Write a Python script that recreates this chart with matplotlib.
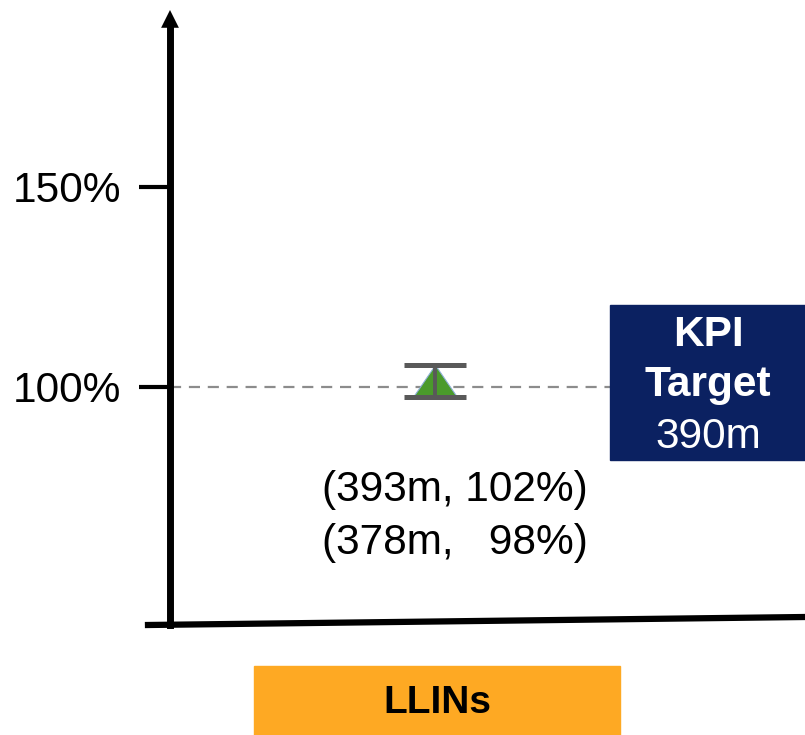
#KPI chart: LLINs distribution estimate against target

import matplotlib.pyplot as plt
from matplotlib.patches import Rectangle
from matplotlib.lines import Line2D

plt.rcParams['font.family'] = ['Liberation Sans', 'DejaVu Sans']

#Data
categories = ['LLINs']
point_pct = [101.5]
upper_pct = [105.5]
lower_pct = [97.5]
upper_label = ['(393m, 102%)']
lower_label = ['(378m,   98%)']
target_pct = 100
target_label = '390m'
yticks = [100, 150]
ytick_labels = ['100%', '150%']

W, H = 805, 735
fig = plt.figure(figsize=(W/100, H/100), dpi=100)
ax = fig.add_axes([170/W, 1-625/H, 635/W, 615/H])
ax.set_xlim(-0.417, 0.583)
ax.set_ylim(40.5, 194.25)

for s in ['top', 'right', 'bottom']:
    ax.spines[s].set_visible(False)
ax.spines['left'].set_linewidth(5)
ax.spines['left'].set_bounds(40.5, 190.0)
ax.set_xticks([])
ax.set_yticks(yticks)
ax.set_yticklabels(ytick_labels, fontsize=30.5)
ax.tick_params(axis='y', length=22, width=3, pad=13)

#arrow head on y axis
ax.annotate('', xy=(0, 1.0), xytext=(0, 190.0), xycoords='axes fraction',
            textcoords=('axes fraction', 'data'),
            arrowprops=dict(arrowstyle='-|>', color='black', lw=0, mutation_scale=32,
                            shrinkA=0, shrinkB=0))

#slightly tilted x axis
fig.add_artist(Line2D([148/W, 1.0], [1-625/H, 1-617/H], color='black', lw=4.5))

#target line
ax.axhline(target_pct, xmin=0, xmax=(610-170)/635, color='#8c8c8c', lw=1.6, dashes=(5, 3.5))

#triangle point + range
tri = [(-1, -0.73), (1, -0.73), (0, 0.73), (-1, -0.73)]
for i, c in enumerate(categories):
    ax.plot(i, point_pct[i], marker=tri, markersize=32, color='#4a9a2b',
            markeredgecolor='#8fb0d8', markeredgewidth=0.8, zorder=3)
    ax.errorbar(i, point_pct[i], yerr=[[point_pct[i]-lower_pct[i]], [upper_pct[i]-point_pct[i]]],
                fmt='none', ecolor='#595959', elinewidth=2.8, capsize=22, capthick=3.6, zorder=4)
    ax.annotate(upper_label[i], xy=(i, lower_pct[i]), xytext=(14.5, -67), textcoords='offset points',
                ha='center', va='center', fontsize=30.5)
    ax.annotate(lower_label[i], xy=(i, lower_pct[i]), xytext=(14.5, -105), textcoords='offset points',
                ha='center', va='center', fontsize=30.5)

#KPI box
fig.add_artist(Rectangle((610/W, 1-460/H), 195/W, 155/H, color='#0b2161', zorder=5))
fig.text(708/W, 1-335/H, 'KPI', color='white', fontsize=30.5, fontweight='bold', ha='center', va='center', zorder=6)
fig.text(708/W, 1-385/H, 'Target', color='white', fontsize=30.5, fontweight='bold', ha='center', va='center', zorder=6)
fig.text(708/W, 1-437/H, target_label, color='white', fontsize=30.5, ha='center', va='center', zorder=6)

#category box
fig.add_artist(Rectangle((254/W, 0), 366/W, 69/H, color='#fea923', zorder=5))
fig.text(437/W, 1-703/H, categories[0], color='black', fontsize=28, fontweight='bold', ha='center', va='center', zorder=6)

fig.savefig('out.png', dpi=100)
